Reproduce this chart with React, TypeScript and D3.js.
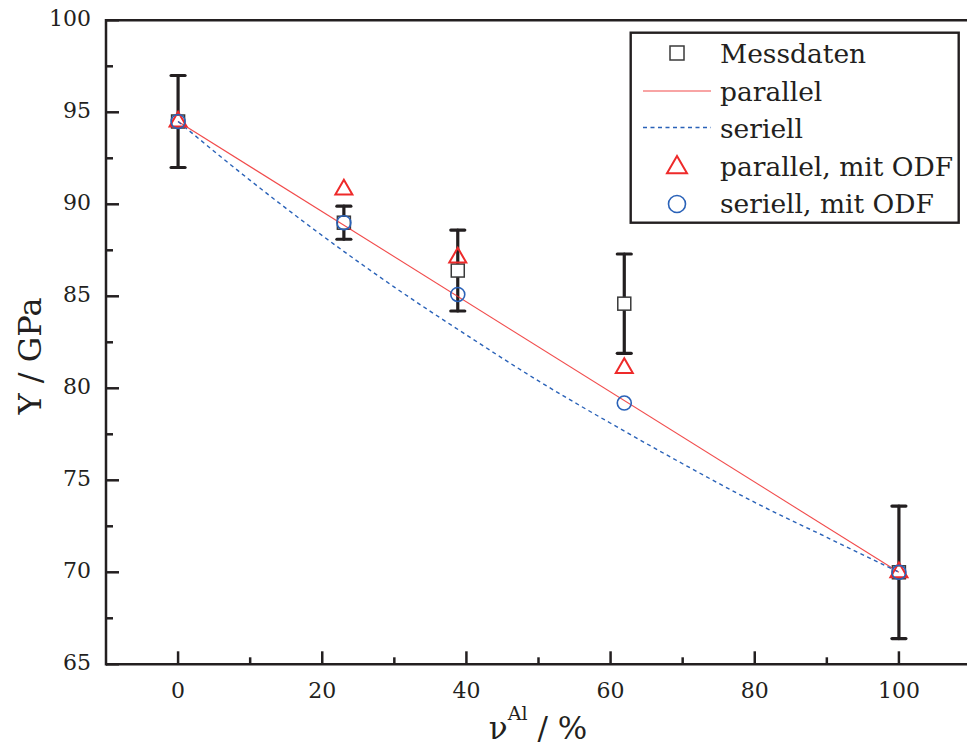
import React from "react";
import * as d3 from "d3";

const W = 967;
const H = 747;

// measured data
const xVals = [0, 23, 38.8, 61.9, 100];
const messdaten = [94.5, 89.0, 86.4, 84.6, 70.0];
const errLow = [92.0, 88.1, 84.2, 81.9, 66.4];
const errHigh = [97.0, 89.9, 88.6, 87.3, 73.6];
const parallelODF = [94.5, 90.8, 87.1, 81.1, 70.0];
const seriellODF = [94.5, 89.0, 85.1, 79.2, 70.0];

// model curves
const parallelX = [0, 100];
const parallelY = [94.5, 70.0];
const seriellX = [0, 10, 20, 30, 40, 50, 60, 70, 80, 90, 100];
const seriellY = [94.5, 91.3, 88.3, 85.5, 82.9, 80.4, 78.1, 75.9, 73.8, 71.9, 70.0];

const xMajor = [0, 20, 40, 60, 80, 100];
const xMinor = [10, 30, 50, 70, 90, 110];
const yMajor = [65, 70, 75, 80, 85, 90, 95, 100];
const yMinor = [67.5, 72.5, 77.5, 82.5, 87.5, 92.5, 97.5];

const legendItems = ["Messdaten", "parallel", "seriell", "parallel, mit ODF", "seriell, mit ODF"];

const AX = "#231f20";
const RED = "#ee2a2a";
const BLUE = "#2a62b8";
const FONT = "'DejaVu Serif', serif";

function triPath(cx: number, cy: number, w: number) {
  const h = (w * Math.sqrt(3)) / 2;
  return `M${cx},${cy - (2 * h) / 3}L${cx + w / 2},${cy + h / 3}L${cx - w / 2},${cy + h / 3}Z`;
}

export default function App() {
  const left = 106, right = 971, top = 20.3, bottom = 664.3;
  const x = d3.scaleLinear().domain([-10, 110]).range([left, right]);
  const y = d3.scaleLinear().domain([65, 100]).range([bottom, top]);

  const lineP = d3.line<number>().x((_, i) => x(parallelX[i])).y((d) => y(d));
  const lineS = d3.line<number>().x((_, i) => x(seriellX[i])).y((d) => y(d)).curve(d3.curveMonotoneX);

  const lgX = 630.7, lgY = 32.7, lgW = 328, lgH = 190;
  const rowY = (i: number) => 53 + i * 37.5;
  const symX = 677;

  return (
    <svg width={W} height={H} style={{ position: "absolute", left: 0, top: 0, background: "#fff" }}>
      <rect x={0} y={0} width={W} height={H} fill="#fff" />
      {/* axes */}
      <g stroke={AX} strokeWidth={2.5} fill="none">
        <line x1={left} y1={bottom} x2={right} y2={bottom} />
        <line x1={left} y1={top} x2={right} y2={top} />
        <line x1={left} y1={top - 1.2} x2={left} y2={bottom + 1.2} />
        {yMajor.map((v) => (
          <line key={"ym" + v} x1={left} x2={left + 13} y1={y(v)} y2={y(v)} />
        ))}
        {yMinor.map((v) => (
          <line key={"yn" + v} x1={left} x2={left + 7} y1={y(v)} y2={y(v)} />
        ))}
        {xMajor.map((v) => (
          <line key={"xm" + v} x1={x(v)} x2={x(v)} y1={bottom} y2={bottom - 13} />
        ))}
        {xMinor.map((v) => (
          <line key={"xn" + v} x1={x(v)} x2={x(v)} y1={bottom} y2={bottom - 7} />
        ))}
      </g>
      {/* tick labels */}
      <g fontFamily={FONT} fontSize={22} fill={AX}>
        {yMajor.map((v) => (
          <text key={"yl" + v} x={91} y={y(v) + 6} textAnchor="end">
            {v}
          </text>
        ))}
        {xMajor.map((v) => (
          <text key={"xl" + v} x={x(v)} y={697.5} textAnchor="middle">
            {v}
          </text>
        ))}
      </g>
      {/* axis titles */}
      <text
        transform={`translate(41,356) rotate(-90)`}
        textAnchor="middle"
        fontFamily={FONT}
        fontSize={32}
        fill={AX}
      >
        Y / GPa
      </text>
      <text x={538} y={739} textAnchor="middle" fontFamily={FONT} fontSize={31} fill={AX}>
        ν<tspan fontSize={19} dy={-19}>Al</tspan>
        <tspan dy={19}> / %</tspan>
      </text>

      {/* error bars */}
      <g stroke={AX} strokeWidth={3.2} strokeLinecap="round">
        {xVals.map((v, i) => (
          <g key={"eb" + i}>
            <line x1={x(v)} x2={x(v)} y1={y(errLow[i])} y2={y(errHigh[i])} />
            <line x1={x(v) - 7} x2={x(v) + 7} y1={y(errLow[i])} y2={y(errLow[i])} />
            <line x1={x(v) - 7} x2={x(v) + 7} y1={y(errHigh[i])} y2={y(errHigh[i])} />
          </g>
        ))}
      </g>
      {/* squares */}
      {xVals.map((v, i) => (
        <rect
          key={"sq" + i}
          x={x(v) - 6.5}
          y={y(messdaten[i]) - 6.5}
          width={13}
          height={13}
          fill="#fff"
          stroke="#3a3a3a"
          strokeWidth={1.5}
        />
      ))}
      {/* model lines */}
      <path d={lineP(parallelY) || ""} fill="none" stroke={RED} strokeWidth={1.1} strokeOpacity={0.85} />
      <path d={lineS(seriellY) || ""} fill="none" stroke={BLUE} strokeWidth={1.4} strokeDasharray="4,3.5" />
      {/* triangles */}
      {xVals.map((v, i) => (
        <path key={"tr" + i} d={triPath(x(v), y(parallelODF[i]), 17)} fill="none" stroke={RED} strokeWidth={2} />
      ))}
      {/* circles */}
      {xVals.map((v, i) => (
        <circle key={"ci" + i} cx={x(v)} cy={y(seriellODF[i])} r={7} fill="none" stroke={BLUE} strokeWidth={1.6} />
      ))}

      {/* legend */}
      <rect x={lgX} y={lgY} width={lgW} height={lgH} fill="#fff" stroke={AX} strokeWidth={2.4} />
      <rect x={symX - 7} y={rowY(0) - 7} width={14} height={14} fill="#fff" stroke="#3a3a3a" strokeWidth={1.5} />
      <line x1={643} x2={711} y1={rowY(1) + 0.5} y2={rowY(1) + 0.5} stroke={RED} strokeWidth={1.1} strokeOpacity={0.85} />
      <line x1={643} x2={711} y1={rowY(2) - 0.5} y2={rowY(2) - 0.5} stroke={BLUE} strokeWidth={1.4} strokeDasharray="4,3.5" />
      <path d={triPath(symX, rowY(3) + 2, 20)} fill="none" stroke={RED} strokeWidth={2} />
      <circle cx={symX} cy={rowY(4) + 1} r={8.5} fill="none" stroke={BLUE} strokeWidth={1.6} />
      <g fontFamily={FONT} fontSize={26.5} fill={AX}>
        {legendItems.map((t, i) => (
          <text key={"lg" + i} x={720} y={rowY(i) + 10}>
            {t}
          </text>
        ))}
      </g>
    </svg>
  );
}
